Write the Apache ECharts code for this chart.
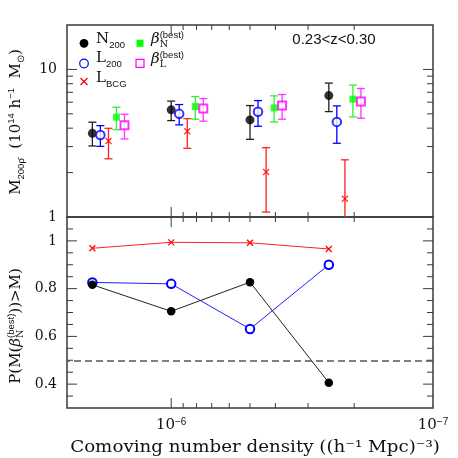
<!DOCTYPE html>
<html><head><meta charset="utf-8">
<script src="https://cdn.jsdelivr.net/npm/echarts@6/dist/echarts.min.js"></script>
<style>html,body{margin:0;padding:0;background:#fff}#c{width:458px;height:458px}</style>
</head><body><div id="c"></div>
<script>
// ---------------- data ----------------
const densities = [2e-6, 1e-6, 5e-7, 2.5e-7];
const n200   = [3.69, 5.32, 4.55, 6.65];
const n200Lo = [3.03, 4.50, 3.36, 5.18];
const n200Hi = [4.39, 6.10, 5.69, 8.08];
const l200   = [3.59, 5.00, 5.16, 4.41];
const l200Lo = [3.01, 4.21, 4.12, 3.16];
const l200Hi = [4.16, 5.78, 6.15, 5.66];
const lbcg   = [3.27, 3.81, 2.02, 1.33];
const lbcgLo = [2.48, 2.92, 1.08, 0.85];
const lbcgHi = [3.99, 4.64, 2.95, 2.44];
const betaN   = [4.75, 5.60, 5.49, 6.29];
const betaNLo = [3.91, 4.60, 4.41, 4.77];
const betaNHi = [5.55, 6.55, 6.62, 7.83];
const betaL   = [4.19, 5.43, 5.69, 6.06];
const betaLLo = [3.38, 4.46, 4.60, 4.67];
const betaLHi = [4.97, 6.35, 6.76, 7.43];
const probN200 = [0.816, 0.705, 0.827, 0.406];
const probL200 = [0.826, 0.820, 0.631, 0.900];
const probLBCG = [0.969, 0.994, 0.992, 0.966];
const densityTicks = [1e-6, 1e-7];
const massTicks = [1, 10];
const probTicks = [0.4, 0.6, 0.8, 1.0];
const refLevel = 0.5;
const redshiftLabel = '0.23<z<0.30';
const xTitle = 'Comoving number density ((h⁻¹ Mpc)⁻³)';

// ---------------- style ----------------
const SERIF = '"DejaVu Serif", serif';
const SANS = '"Liberation Sans", sans-serif';
const FRAME = '#3a3a3a';
const TXT = '#111';
const shift = [1, 0.932, 0.868, 0.809, 0.754]; // horizontal dodge factors (log axis)
const XPATH = 'path://M0,0L10,10M10,0L0,10';

const chart = echarts.init(document.getElementById('c'));

function pts(vals, k) { return vals.map((v, i) => [densities[i] * shift[k], v]); }
function bars(lo, hi, k) { return lo.map((l, i) => [densities[i] * shift[k], l, hi[i]]); }

function errSeries(lo, hi, k, color) {
  return {
    type: 'custom', xAxisIndex: 0, yAxisIndex: 0, z: 3, silent: true,
    data: bars(lo, hi, k), encode: { x: 0, y: [1, 2] },
    renderItem: function (params, api) {
      const cs = params.coordSys;
      const x = api.value(0);
      const a = api.coord([x, api.value(1)]);
      const b = api.coord([x, api.value(2)]);
      const bottom = cs.y + cs.height, top = cs.y;
      const y1 = Math.min(a[1], bottom), y2 = Math.max(b[1], top);
      const w = 4;
      const st = { stroke: color, lineWidth: 1.3 };
      const ch = [{ type: 'line', shape: { x1: a[0], y1: y1, x2: a[0], y2: y2 }, style: st }];
      if (a[1] <= bottom) ch.push({ type: 'line', shape: { x1: a[0] - w, y1: a[1], x2: a[0] + w, y2: a[1] }, style: st });
      if (b[1] >= top) ch.push({ type: 'line', shape: { x1: b[0] - w, y1: b[1], x2: b[0] + w, y2: b[1] }, style: st });
      return { type: 'group', children: ch };
    }
  };
}

function tickSeries(gi, ticks, xRef, yRef) {
  return {
    type: 'custom', xAxisIndex: gi, yAxisIndex: gi, z: 1, silent: true,
    data: ticks.map(t => t.axis === 'x' ? [t.v, yRef] : [xRef, t.v]),
    renderItem: function (params, api) {
      const cs = params.coordSys;
      const t = ticks[params.dataIndex];
      const p = api.coord([api.value(0), api.value(1)]);
      const st = { stroke: FRAME, lineWidth: 1 };
      let ch;
      if (t.axis === 'x') {
        ch = [
          { type: 'line', shape: { x1: p[0], y1: cs.y, x2: p[0], y2: cs.y + t.len }, style: st },
          { type: 'line', shape: { x1: p[0], y1: cs.y + cs.height, x2: p[0], y2: cs.y + cs.height - t.len }, style: st }
        ];
      } else {
        ch = [
          { type: 'line', shape: { x1: cs.x, y1: p[1], x2: cs.x + t.len, y2: p[1] }, style: st },
          { type: 'line', shape: { x1: cs.x + cs.width, y1: p[1], x2: cs.x + cs.width - t.len, y2: p[1] }, style: st }
        ];
      }
      return { type: 'group', children: ch };
    }
  };
}

const xTicks = [{ axis: 'x', v: 1e-6, len: 10 }].concat([2, 3, 4, 5, 6, 7, 8, 9].map(k => ({ axis: 'x', v: k * 1e-7, len: 5 })));
const yTicksTop = [{ axis: 'y', v: 10, len: 10 }].concat([2, 3, 4, 5, 6, 7, 8, 9].map(k => ({ axis: 'y', v: k, len: 6 })));
const yTicksBot = [];
for (let i = 7; i <= 21; i++) {
  const v = i * 0.05;
  const major = probTicks.some(t => Math.abs(t - v) < 1e-9);
  yTicksBot.push({ axis: 'y', v: v, len: major ? 10 : 6 });
}

// measured math-like text
const mctx = document.createElement('canvas').getContext('2d');
function mathGroup(pieces, cx, cy, rot, align) {
  let x = 0, stackW = 0;
  const children = [];
  pieces.forEach(p => {
    const font = (p.it ? 'italic ' : '') + p.fs + 'px ' + (p.ff || SERIF);
    mctx.font = font;
    const w = mctx.measureText(p.t).width;
    children.push({ type: 'text', x: x, y: p.dy || 0, silent: true,
      style: { text: p.t, font: font, fill: TXT, textAlign: 'left', textVerticalAlign: 'middle', align: 'left', verticalAlign: 'middle' } });
    if (p.stack) { stackW = w; } else { x += Math.max(w, stackW); stackW = 0; }
  });
  const off = align === 'left' ? 0 : -x / 2;
  children.forEach(c => { c.x += off; });
  return { type: 'group', x: cx, y: cy, rotation: rot || 0, children: children };
}

const graphics = [
  mathGroup([{ t: 'M', fs: 15 }, { t: '200ρ̄', fs: 9.5, ff: SANS, dy: 5 }, { t: '  (10', fs: 15 }, { t: '14', fs: 9.5, ff: SANS, dy: -5 },
    { t: ' h', fs: 15 }, { t: '−1', fs: 9.5, ff: SANS, dy: -5 }, { t: '  M', fs: 15 }, { t: '⊙', fs: 9.5, ff: SANS, dy: 5 }, { t: ')', fs: 15 }],
    16, 122, Math.PI / 2),
  mathGroup([{ t: 'P(M(', fs: 15 }, { t: 'β', fs: 15, it: true }, { t: '(best)', fs: 9.5, ff: SANS, dy: -5, stack: true }, { t: 'N', fs: 9.5, dy: 5 },
    { t: '))>M)', fs: 15 }], 16, 326, Math.PI / 2),
  // x-axis title
  { type: 'group', x: 255, y: 448, scaleX: 1.14, silent: true, children: [
    { type: 'text', x: 0, y: 0, style: { text: xTitle, font: '16px ' + SERIF, fill: TXT, textAlign: 'center', textVerticalAlign: 'middle', align: 'center', verticalAlign: 'middle' } }] },
  // legend labels
  mathGroup([{ t: 'N', fs: 15 }, { t: '200', fs: 9.5, ff: SANS, dy: 6 }], 96, 39, 0, 'left'),
  mathGroup([{ t: 'L', fs: 15 }, { t: '200', fs: 9.5, ff: SANS, dy: 6 }], 96, 58.5, 0, 'left'),
  mathGroup([{ t: 'L', fs: 15 }, { t: 'BCG', fs: 9.5, ff: SANS, dy: 6 }], 96, 78, 0, 'left'),
  mathGroup([{ t: 'β', fs: 15, it: true }, { t: '(best)', fs: 9.5, ff: SANS, dy: -4, stack: true }, { t: 'N', fs: 9.5, dy: 6 }], 151, 39, 0, 'left'),
  mathGroup([{ t: 'β', fs: 15, it: true }, { t: '(best)', fs: 9.5, ff: SANS, dy: -4, stack: true }, { t: 'L', fs: 9.5, dy: 6 }], 151, 59, 0, 'left'),
  // legend markers
  { type: 'circle', shape: { cx: 84, cy: 43.3, r: 4.4 }, style: { fill: '#000' }, silent: true },
  { type: 'circle', shape: { cx: 84, cy: 63.5, r: 4.3 }, style: { fill: '#fff', stroke: '#0000ff', lineWidth: 1.2 }, silent: true },
  { type: 'group', x: 84, y: 81.5, silent: true, children: [
    { type: 'line', shape: { x1: -3.5, y1: -3.5, x2: 3.5, y2: 3.5 }, style: { stroke: '#ff0000', lineWidth: 1.3 } },
    { type: 'line', shape: { x1: -3.5, y1: 3.5, x2: 3.5, y2: -3.5 }, style: { stroke: '#ff0000', lineWidth: 1.3 } }] },
  { type: 'rect', shape: { x: 136.5, y: 39.8, width: 7, height: 7 }, style: { fill: '#00ff00' }, silent: true },
  { type: 'rect', shape: { x: 136, y: 59.3, width: 8, height: 8 }, style: { fill: '#fff', stroke: '#ff00ff', lineWidth: 1.2 }, silent: true },
  { type: 'text', x: 334, y: 40, silent: true, style: { text: redshiftLabel, font: '15px ' + SANS, fill: TXT, textAlign: 'center', textVerticalAlign: 'middle', align: 'center', verticalAlign: 'middle' } }
];

function near(list, v, log) {
  return list.some(t => log ? Math.abs(Math.log10(t) - Math.log10(v)) < 1e-6 : Math.abs(t - v) < 1e-6);
}

const xBase = {
  type: 'log', logBase: 10, min: 1e-7, max: 2.5e-6, inverse: true,
  axisLine: { show: false }, axisTick: { show: false }, splitLine: { show: false }, minorTick: { show: false }
};
const axisLabelFont = { fontFamily: SERIF, fontSize: 14, color: TXT };

const option = {
  animation: false,
  backgroundColor: '#fff',
  graphic: graphics,
  grid: [
    { left: 67, top: 25, width: 366, height: 192, show: true, borderColor: FRAME, borderWidth: 1.5, backgroundColor: 'transparent' },
    { left: 67, top: 217, width: 366, height: 191, show: true, borderColor: FRAME, borderWidth: 1.5, backgroundColor: 'transparent' }
  ],
  xAxis: [
    Object.assign({}, xBase, { gridIndex: 0, axisLabel: { show: false } }),
    Object.assign({}, xBase, {
      gridIndex: 1,
      axisLabel: {
        show: true, margin: 9, showMinLabel: true, showMaxLabel: true,
        formatter: v => near(densityTicks, v, true) ? '{b|10}{s|−' + Math.round(-Math.log10(v)) + '}' : '',
        rich: {
          b: { fontFamily: SERIF, fontSize: 15, color: TXT, lineHeight: 17 },
          s: { fontFamily: SANS, fontSize: 10, color: TXT, lineHeight: 10, verticalAlign: 'top' }
        }
      }
    })
  ],
  yAxis: [
    {
      gridIndex: 0, type: 'log', logBase: 10, min: 1, max: 20,
      axisLine: { show: false }, axisTick: { show: false }, splitLine: { show: false },
      axisLabel: Object.assign({ margin: 10, showMinLabel: true, formatter: v => near(massTicks, v, true) ? String(Math.round(v)) : '' }, axisLabelFont)
    },
    {
      gridIndex: 1, type: 'value', min: 0.3, max: 1.1, interval: 0.1,
      axisLine: { show: false }, axisTick: { show: false }, splitLine: { show: false },
      axisLabel: Object.assign({ margin: 10, formatter: v => near(probTicks, v, false) ? (Math.abs(v - 1) < 1e-6 ? '1' : v.toFixed(1)) : '' }, axisLabelFont)
    }
  ],
  series: [
    tickSeries(0, xTicks.concat(yTicksTop), 1e-6, 2),
    tickSeries(1, xTicks.concat(yTicksBot), 1e-6, 0.5),
    errSeries(n200Lo, n200Hi, 0, '#222'),
    errSeries(l200Lo, l200Hi, 1, '#0000ff'),
    errSeries(lbcgLo, lbcgHi, 2, '#ff2020'),
    errSeries(betaNLo, betaNHi, 3, '#33ee33'),
    errSeries(betaLLo, betaLHi, 4, '#ff33ff'),
    { name: 'N200', type: 'scatter', xAxisIndex: 0, yAxisIndex: 0, z: 5, data: pts(n200, 0), symbol: 'circle', symbolSize: 9, itemStyle: { color: '#000' } },
    { name: 'L200', type: 'scatter', xAxisIndex: 0, yAxisIndex: 0, z: 5, data: pts(l200, 1), symbol: 'emptyCircle', symbolSize: 8.5, itemStyle: { color: '#0000ff', borderWidth: 1.2 } },
    { name: 'LBCG', type: 'scatter', xAxisIndex: 0, yAxisIndex: 0, z: 5, data: pts(lbcg, 2), symbol: XPATH, symbolSize: 6, itemStyle: { color: 'transparent', borderColor: '#ff0000', borderWidth: 1.3 } },
    { name: 'betaN', type: 'scatter', xAxisIndex: 0, yAxisIndex: 0, z: 5, data: pts(betaN, 3), symbol: 'rect', symbolSize: 7, itemStyle: { color: '#00ff00' } },
    { name: 'betaL', type: 'scatter', xAxisIndex: 0, yAxisIndex: 0, z: 5, data: pts(betaL, 4), symbol: 'emptyRect', symbolSize: 8, itemStyle: { color: '#ff00ff', borderWidth: 1.2 } },
    { name: 'pLBCG', type: 'line', xAxisIndex: 1, yAxisIndex: 1, z: 4, data: pts(probLBCG, 0), symbol: XPATH, symbolSize: 6,
      lineStyle: { color: '#ff2020', width: 1 }, itemStyle: { color: 'transparent', borderColor: '#ff0000', borderWidth: 1.2 },
      markLine: { silent: true, symbol: 'none', label: { show: false }, lineStyle: { color: '#555', width: 1.5, type: [7, 4] }, data: [{ yAxis: refLevel }] } },
    { name: 'pL200', type: 'line', xAxisIndex: 1, yAxisIndex: 1, z: 4, data: pts(probL200, 0), symbol: 'emptyCircle', symbolSize: 8.5,
      lineStyle: { color: '#2020ff', width: 1 }, itemStyle: { color: '#0000ff', borderWidth: 1.2 } },
    { name: 'pN200', type: 'line', xAxisIndex: 1, yAxisIndex: 1, z: 4, data: pts(probN200, 0), symbol: 'circle', symbolSize: 8.5,
      lineStyle: { color: '#222', width: 1 }, itemStyle: { color: '#000' } }
  ]
};
chart.setOption(option);
</script>
</body></html>
